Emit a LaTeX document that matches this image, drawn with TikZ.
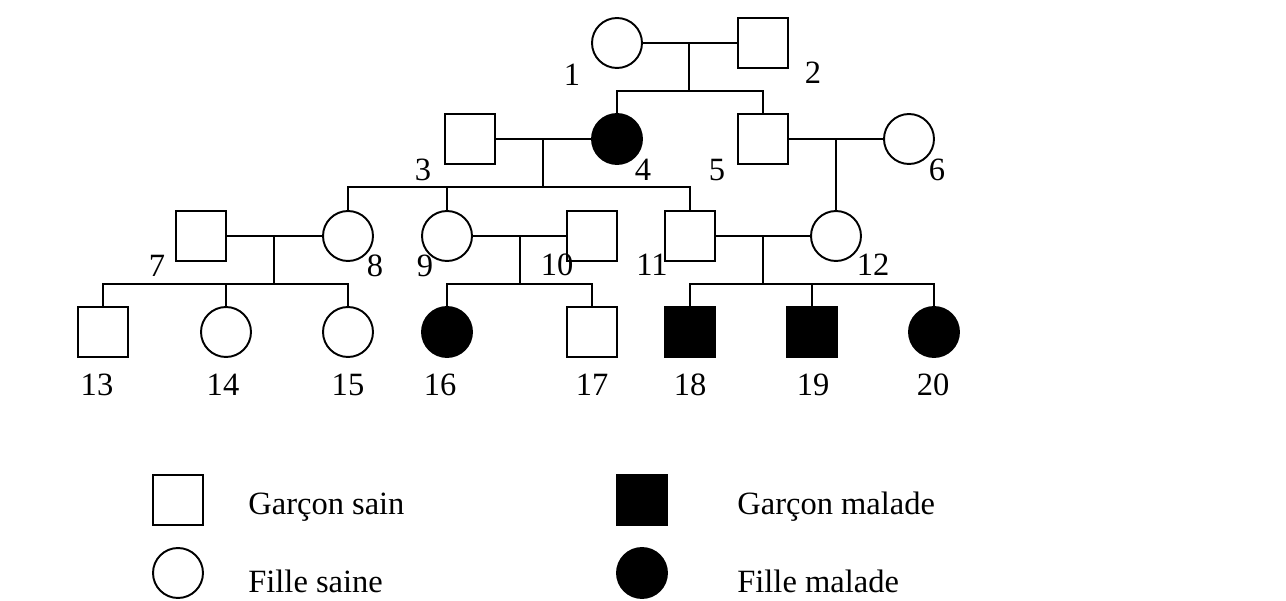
\documentclass[tikz,border=0pt]{standalone}
\usepackage{fontspec}
\setmainfont{Liberation Serif}
\tikzset{
    male/.style={draw, rectangle, minimum size=1cm, inner sep=0pt, line width=1.1pt},
    female/.style={draw, circle, minimum size=1cm, inner sep=0pt, line width=1.1pt},
    sickmale/.style={male, fill=black},
    sickfemale/.style={female, fill=black},
    num/.style={font=\fontsize{18.5}{22}\selectfont, inner sep=1pt},
    legtext/.style={font=\fontsize{18.5}{22}\selectfont, anchor=base west, inner sep=0pt},
    link/.style={line width=1.1pt}
}
\begin{document}
\begin{tikzpicture}[x=0.02cm, y=-0.02cm]
            \useasboundingbox (0,0) rectangle (1286,601);

            % generation I and II
            \node[female] (i1) at (617,43) {};
            \node[male] (i2) at (763,43) {};
            \node[male] (i3) at (470,139) {};
            \node[sickfemale] (i4) at (617,139) {};
            \node[male] (i5) at (763,139) {};
            \node[female] (i6) at (909,139) {};

            % generation III
            \node[male] (i7) at (201,236) {};
            \node[female] (i8) at (348,236) {};
            \node[female] (i9) at (447,236) {};
            \node[male] (i10) at (592,236) {};
            \node[male] (i11) at (690,236) {};
            \node[female] (i12) at (836,236) {};

            % generation IV
            \foreach \n/\x/\lx/\s in {13/103/97/male, 14/226/223/female, 15/348/348/female,
                16/447/440/sickfemale, 17/592/592/male, 18/690/690/sickmale,
                19/812/813/sickmale, 20/934/933/sickfemale}
                {
                    \node[\s] (i\n) at (\x,332) {};
                    \node[num] (n\n) at (\lx,385) {\n};
                }

            % numbers
            \node[num] (n1) at (572,75) {1};
            \node[num] (n2) at (813,73) {2};
            \node[num] (n3) at (423,170) {3};
            \node[num] (n4) at (643,170) {4};
            \node[num] (n5) at (717,170) {5};
            \node[num] (n6) at (937,170) {6};
            \node[num] (n7) at (157,266) {7};
            \node[num] (n8) at (375,266) {8};
            \node[num] (n9) at (425,266) {9};
            \node[num] (n10) at (557,265) {10};
            \node[num] (n11) at (652,265) {11};
            \node[num] (n12) at (873,265) {12};

            % couples and children
            \coordinate (m12) at (689,43);
            \coordinate (s12) at (689,91);
            \coordinate (m34) at (543,139);
            \coordinate (s34) at (543,187);
            \coordinate (m56) at (836,139);
            \coordinate (m78) at (274,236);
            \coordinate (s78) at (274,284);
            \coordinate (m910) at (520,236);
            \coordinate (s910) at (520,284);
            \coordinate (m1112) at (763,236);
            \coordinate (s1112) at (763,284);

            \draw[link] (i1) -- (i2);
            \draw[link] (m12) -- (s12);
            \draw[link] (i4) |- (s12) -| (i5);

            \draw[link] (i3) -- (i4);
            \draw[link] (m34) -- (s34);
            \draw[link] (i8) |- (s34) -| (i11);
            \draw[link] (i9) -- (i9 |- s34);

            \draw[link] (i5) -- (i6);
            \draw[link] (m56) -- (i12);

            \draw[link] (i7) -- (i8);
            \draw[link] (m78) -- (s78);
            \draw[link] (i13) |- (s78) -| (i15);
            \draw[link] (i14) -- (i14 |- s78);

            \draw[link] (i9) -- (i10);
            \draw[link] (m910) -- (s910);
            \draw[link] (i16) |- (s910) -| (i17);

            \draw[link] (i11) -- (i12);
            \draw[link] (m1112) -- (s1112);
            \draw[link] (i18) |- (s1112) -| (i20);
            \draw[link] (i19) -- (i19 |- s1112);

            % legend
            \node[male] (lg1) at (178,500) {};
            \node[female] (lg2) at (178,573) {};
            \node[sickmale] (lg3) at (642,500) {};
            \node[sickfemale] (lg4) at (642,573) {};
            \node[legtext] (t1) at (248,515) {Garçon sain};
            \node[legtext] (t2) at (248,592) {Fille saine};
            \node[legtext] (t3) at (737,515) {Garçon malade};
            \node[legtext] (t4) at (737,592) {Fille malade};
        \end{tikzpicture}
\end{document}
